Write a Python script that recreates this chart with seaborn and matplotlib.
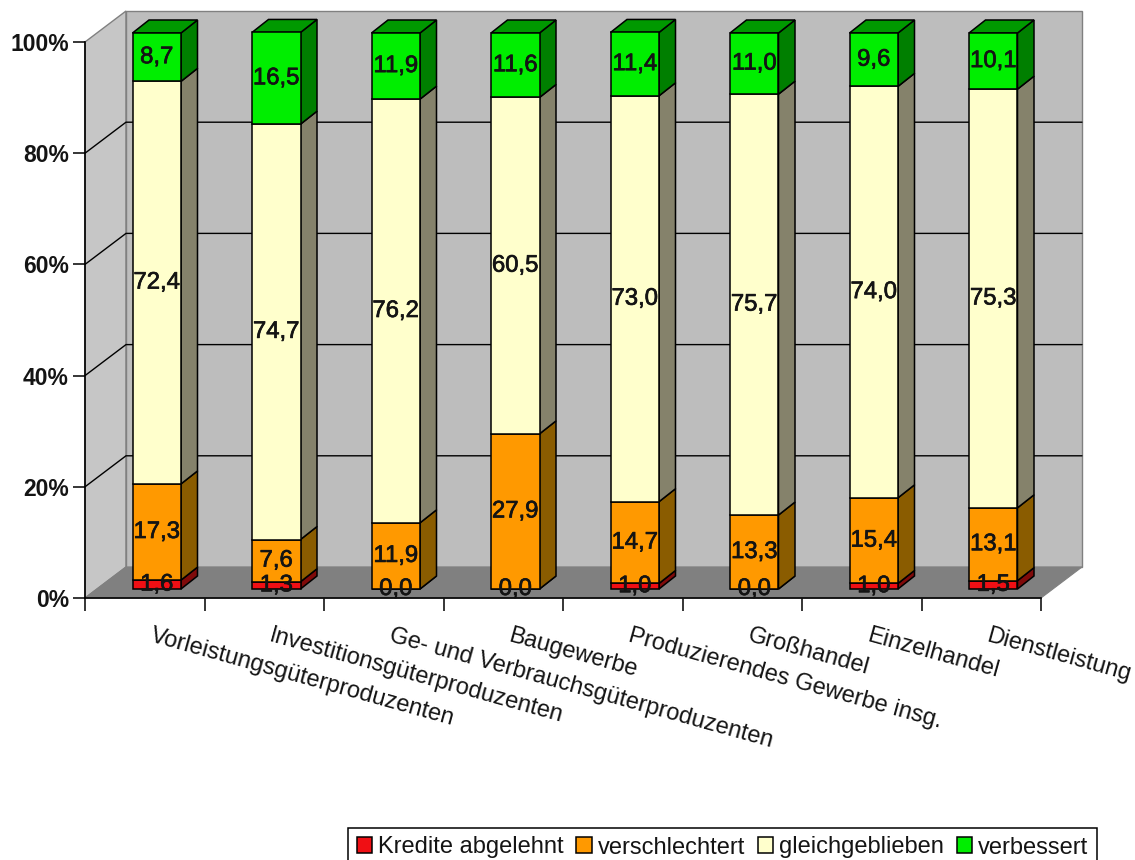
import numpy as np
import pandas as pd
import matplotlib
matplotlib.use("Agg")
import matplotlib.pyplot as plt
import matplotlib.patheffects as pe
from matplotlib.patches import Polygon
import seaborn as sns

categories = ["Vorleistungsgüterproduzenten", "Investitionsgüterproduzenten",
              "Ge- und Verbrauchsgüterproduzenten", "Baugewerbe",
              "Produzierendes Gewerbe insg.", "Großhandel", "Einzelhandel", "Dienstleistung"]
abgelehnt = [1.6, 1.3, 0.0, 0.0, 1.0, 0.0, 1.0, 1.5]
verschlechtert = [17.3, 7.6, 11.9, 27.9, 14.7, 13.3, 15.4, 13.1]
gleich = [72.4, 74.7, 76.2, 60.5, 73.0, 75.7, 74.0, 75.3]
verbessert = [8.7, 16.5, 11.9, 11.6, 11.4, 11.0, 9.6, 10.1]

series = [("Kredite abgelehnt", abgelehnt, "#f00f14", "#800a0a"),
          ("verschlechtert", verschlechtert, "#ff9900", "#8a5c00"),
          ("gleichgeblieben", gleich, "#ffffcc", "#85826b"),
          ("verbessert", verbessert, "#00ee00", "#007f00")]
top_colour = "#009900"
yticks = [0, 20, 40, 60, 80, 100]

W, H = 1135, 860
sns.set_theme(style="white")
plt.rcParams["font.family"] = ["Liberation Sans", "DejaVu Sans"]
fig = plt.figure(figsize=(W / 100, H / 100), dpi=100)
ax = fig.add_axes([85 / W, 1 - 598 / H, (1041 - 85) / W, (598 - 42) / H])
ax.patch.set_alpha(0)

# conversion of the chart's depth into data units
px_x = (1041 - 85) / 8
px_y = (598 - 42) / 100
WALL_DX, WALL_DY = 41 / px_x, 31 / px_y
BAR_X, BAR_Y = 12 / px_x, 9 / px_y
SIDE_DX, SIDE_DY = 16.5 / px_x, 13 / px_y
BAR_W = 48.5 / px_x
LW = 1.1
ink = "#141414"
heavy = [pe.withStroke(linewidth=0.5, foreground=ink)]

bottom = np.zeros(len(categories))
handles = []
for name, vals, col, side in series:
    vals = np.array(vals)
    df = pd.DataFrame({"cat": categories, "v": vals})
    before = len(ax.patches)
    sns.barplot(data=df, x="cat", y="v", order=categories, color=col, saturation=1,
                width=BAR_W, bottom=bottom + BAR_Y, edgecolor="black", linewidth=LW,
                zorder=4, errorbar=None, ax=ax, label=name, clip_on=False)
    new = ax.patches[before:]
    for p in new:
        p.set_x(p.get_x() + BAR_X)
    handles.append(new[0])
    for i, v in enumerate(vals):
        xr = i + BAR_X + BAR_W / 2
        y0 = bottom[i] + BAR_Y
        ax.add_patch(Polygon([(xr, y0), (xr + SIDE_DX, y0 + SIDE_DY),
                              (xr + SIDE_DX, y0 + v + SIDE_DY), (xr, y0 + v)],
                             closed=True, fc=side, ec="black", lw=LW, zorder=3, clip_on=False))
        ax.text(i + BAR_X, y0 + v / 2, f"{v:.1f}".replace(".", ","), ha="center", va="center",
                fontsize=17.2, color=ink, zorder=6, clip_on=False, path_effects=heavy)
    bottom = bottom + vals

# top faces of the bars
for i in range(len(categories)):
    xl = i + BAR_X - BAR_W / 2
    xr = xl + BAR_W
    yt = bottom[i] + BAR_Y
    ax.add_patch(Polygon([(xl, yt), (xr, yt), (xr + SIDE_DX, yt + SIDE_DY), (xl + SIDE_DX, yt + SIDE_DY)],
                         closed=True, fc=top_colour, ec="black", lw=LW, zorder=3, clip_on=False))

x0, x1 = -0.5, 7.5
ax.set_xlim(x0, x1)
ax.set_ylim(0, 100)

# walls and floor
ax.add_patch(Polygon([(x0, 0), (x0 + WALL_DX, WALL_DY), (x0 + WALL_DX, 100 + WALL_DY), (x0, 100)],
                     closed=True, fc="#c6c6c6", ec="#808080", lw=1.0, zorder=0, clip_on=False))
ax.add_patch(Polygon([(x0 + WALL_DX, WALL_DY), (x1 + WALL_DX, WALL_DY), (x1 + WALL_DX, 100 + WALL_DY), (x0 + WALL_DX, 100 + WALL_DY)],
                     closed=True, fc="#bdbdbd", ec="#808080", lw=1.0, zorder=0, clip_on=False))
ax.add_patch(Polygon([(x0, 0), (x1, 0), (x1 + WALL_DX, WALL_DY), (x0 + WALL_DX, WALL_DY)],
                     closed=True, fc="#808080", ec="#808080", lw=0.8, zorder=1, clip_on=False))
for t in yticks[1:-1]:
    ax.plot([x0, x0 + WALL_DX, x1 + WALL_DX], [t, t + WALL_DY, t + WALL_DY], color="black", lw=1.0,
            zorder=2, clip_on=False, solid_joinstyle="miter")

# axes
for s in ("top", "right"):
    ax.spines[s].set_visible(False)
for s in ("left", "bottom"):
    ax.spines[s].set_visible(True)
    ax.spines[s].set_color("black")
    ax.spines[s].set_linewidth(1.2)
    ax.spines[s].set_zorder(5)
ax.set_xlabel("")
ax.set_ylabel("")
ax.set_yticks(yticks)
ax.set_yticklabels([f"{t}%" for t in yticks], fontsize=16.5, color=ink, fontweight="bold")
ax.tick_params(axis="y", which="major", left=True, length=8.6, width=1.1, color="black", pad=3)
ax.set_xticks(np.arange(x0, x1 + 0.5, 1))
ax.set_xticklabels([])
ax.tick_params(axis="x", which="major", bottom=True, length=9.5, width=1.1, color="black")
ax.set_xticks(np.arange(len(categories)) + 9 / px_x, minor=True)
ax.set_xticklabels(categories, minor=True, rotation=-15.5, ha="left", va="top",
                   rotation_mode="anchor", fontsize=17, color=ink)
ax.tick_params(axis="x", which="minor", bottom=False, length=0, pad=19)

leg = ax.legend(handles, [s[0] for s in series], ncol=4, loc="lower left",
                bbox_to_anchor=(348 / W, -7 / H), bbox_transform=fig.transFigure,
                frameon=True, fancybox=False, framealpha=1, edgecolor="black",
                fontsize=17, handlelength=0.65, handleheight=0.65, handletextpad=0.25,
                columnspacing=0.55, borderpad=0.36, borderaxespad=0)
leg.get_frame().set_linewidth(1.1)
for t in leg.get_texts():
    t.set_color(ink)

fig.savefig("out.png", dpi=100, facecolor="white")
